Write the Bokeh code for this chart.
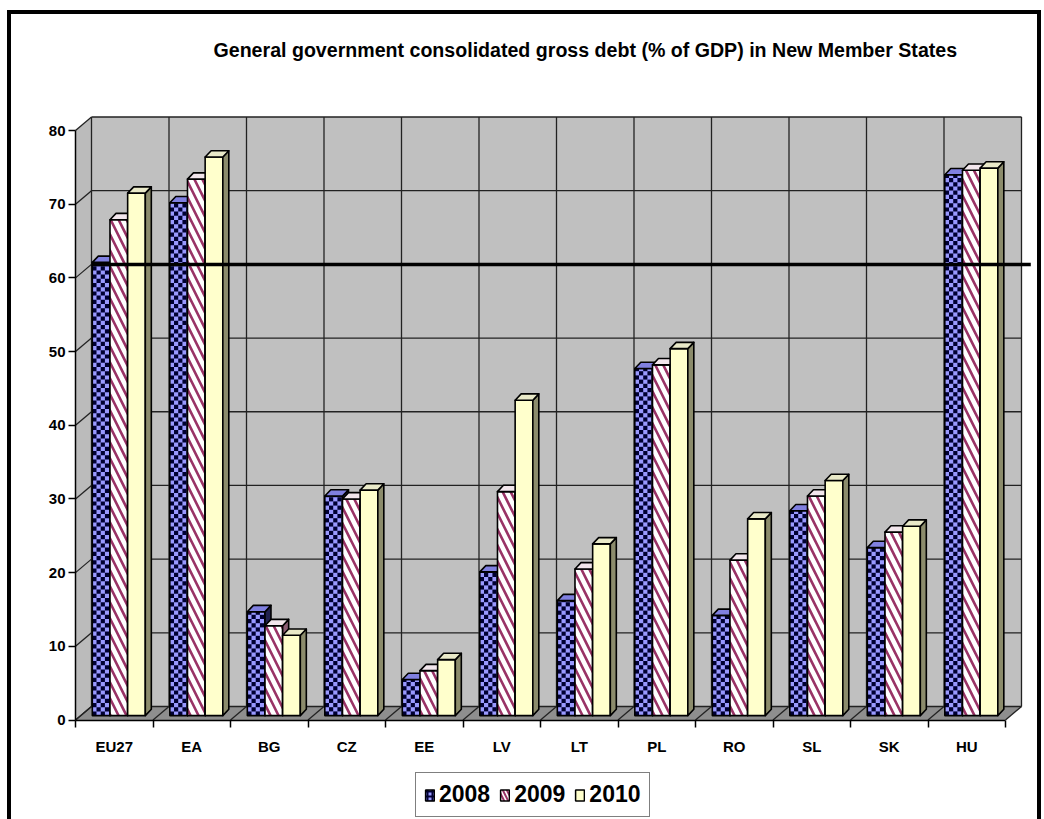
import numpy as np
from bokeh.plotting import figure
from bokeh.models import (Range1d, FixedTicker, LinearAxis, Legend, LegendItem,
                          ColumnDataSource)
from bokeh.embed import file_html
from bokeh.resources import INLINE

# ---------------- data ----------------
categories = ["EU27", "EA", "BG", "CZ", "EE", "LV", "LT", "PL", "RO", "SL", "SK", "HU"]
years = ["2008", "2009", "2010"]
debt_2008 = [61.5, 69.6, 14.1, 29.8, 4.9, 19.5, 15.6, 47.1, 13.6, 27.8, 22.8, 73.4]
debt_2009 = [67.3, 72.8, 12.2, 29.4, 6.1, 30.4, 19.9, 47.6, 21.1, 29.8, 24.9, 74.0]
debt_2010 = [70.9, 75.8, 10.9, 30.6, 7.6, 42.8, 23.3, 49.8, 26.7, 31.9, 25.7, 74.3]
y_ticks = [0, 10, 20, 30, 40, 50, 60, 70, 80]
reference_level = 60
title_text = "General government consolidated gross debt (% of GDP) in New Member States"

series = [debt_2008, debt_2009, debt_2010]
n = len(categories)

# ---------------- layout (pixels) ----------------
BORDER = 4
CW, CH = 1034, 809          # outer box incl. border; the canvas gets this size
MB_T = 54                   # room for the title above the plotting frame
PX_PER_X, PX_PER_Y = 77.5, 7.36875
AXIS_X_PX = 64              # value axis distance from the frame's left edge
AXIS_Y_PX = 103.5           # category axis distance from the frame's bottom edge
px_x, px_y = 1.0 / PX_PER_X, 1.0 / PX_PER_Y

x_left, x_right = -0.5, n - 0.5
X0 = x_left - AXIS_X_PX * px_x
X1 = X0 + CW * px_x
Y0 = -AXIS_Y_PX * px_y
Y1 = Y0 + (CH - MB_T) * px_y

# 3-D projection constants (data units)
WALL_DX, WALL_DY = 16 * px_x, 13.5 * px_y
BAR_SHIFT_X, BAR_LIFT = 4.8 * px_x, 4.4 * px_y
BAR_DX, BAR_DY = 6 * px_x, 6.3 * px_y
GROUP_START = 0.155 - 0.5
BAR_W = 0.228
CELL_X, CELL_Y = 4.2 * px_x, 4.2 * px_y

FONT = "Liberation Sans"

p = figure(width=CW, height=CH,
           x_range=Range1d(X0, X1), y_range=Range1d(Y0, Y1),
           output_backend="svg", toolbar_location=None,
           x_axis_type=None, y_axis_type=None,
           min_border_left=0, min_border_right=0,
           min_border_top=MB_T, min_border_bottom=0)
p.margin = (10, 0, 0, 7)
p.styles = {"border-top": "4px solid black", "border-left": "4px solid black",
            "border-right": "4px solid black", "box-sizing": "border-box"}
p.outline_line_color = None
p.background_fill_color = "white"
p.border_fill_color = "white"

y_top = y_ticks[-1]
yt = np.array(y_ticks, dtype=float)
bounds = np.arange(n + 1) - 0.5

# walls & floor
p.patch([x_left + WALL_DX, x_right + WALL_DX, x_right + WALL_DX, x_left + WALL_DX],
        [WALL_DY, WALL_DY, y_top + WALL_DY, y_top + WALL_DY],
        fill_color="#C0C0C0", line_color=None)
p.patch([x_left, x_left + WALL_DX, x_left + WALL_DX, x_left],
        [0, WALL_DY, y_top + WALL_DY, y_top],
        fill_color="#BBBBBB", line_color=None)
p.patch([x_left, x_right, x_right + WALL_DX, x_left + WALL_DX],
        [0, 0, WALL_DY, WALL_DY],
        fill_color="#8E8E8E", line_color=None)

grid_kw = dict(line_color="#222222", line_width=1.3)
p.segment(x0=np.full(len(yt), x_left + WALL_DX), y0=yt + WALL_DY,
          x1=np.full(len(yt), x_right + WALL_DX), y1=yt + WALL_DY, **grid_kw)
p.segment(x0=np.full(len(yt), x_left), y0=yt,
          x1=np.full(len(yt), x_left + WALL_DX), y1=yt + WALL_DY, **grid_kw)
p.segment(x0=bounds + WALL_DX, y0=np.full(len(bounds), WALL_DY),
          x1=bounds + WALL_DX, y1=np.full(len(bounds), y_top + WALL_DY), **grid_kw)
p.segment(x0=bounds, y0=np.zeros(len(bounds)),
          x1=bounds + WALL_DX, y1=np.full(len(bounds), WALL_DY), **grid_kw)

# ---------------- bars ----------------
front_styles = [
    dict(fill_color="#9999FF"),
    dict(fill_color="white", hatch_pattern="left_diagonal_line", hatch_scale=16,
         hatch_weight=2.6, hatch_color="#993366"),
    dict(fill_color="#FFFFCC"),
]
top_styles = [
    dict(fill_color="#8080E0"),
    dict(fill_color="#F2E6EC"),
    dict(fill_color="#E9E9C8"),
]
side_colors = ["#22224F", "#8A5C72", "#8C8C6C"]
outline = dict(line_color="black", line_width=1.6, line_join="round")


def checker_cells(x0, x1, b, heights):
    """Dark squares of a checkerboard texture clipped to each bar front."""
    L, R, B, T = [], [], [], []
    for l, r, h in zip(x0, x1, heights):
        nx = int(np.ceil((r - l) / CELL_X))
        ny = int(np.ceil(h / CELL_Y))
        for i in range(nx):
            for j in range(ny):
                if (i + j) % 2 == 0:
                    L.append(l + i * CELL_X)
                    R.append(min(l + (i + 1) * CELL_X, r))
                    B.append(b + j * CELL_Y)
                    T.append(min(b + (j + 1) * CELL_Y, b + h))
    return dict(left=L, right=R, bottom=B, top=T)


for k, vals in enumerate(series):
    v = np.array(vals, dtype=float)
    x0 = np.arange(n) + GROUP_START + BAR_SHIFT_X + k * BAR_W
    x1 = x0 + BAR_W
    b = BAR_LIFT
    p.quad(left=x0, right=x1, bottom=np.full(n, b), top=b + v,
           **front_styles[k], line_color=None)
    if k == 0:
        p.quad(source=ColumnDataSource(checker_cells(x0, x1, b, v)),
               left="left", right="right", bottom="bottom", top="top",
               fill_color="#000033", line_color=None)
    p.quad(left=x0, right=x1, bottom=np.full(n, b), top=b + v,
           fill_color=None, **outline)
    side_xs = [[a, a + BAR_DX, a + BAR_DX, a] for a in x1]
    side_ys = [[b, b + BAR_DY, b + BAR_DY + h, b + h] for h in v]
    p.patches(side_xs, side_ys, fill_color=side_colors[k], **outline)
    top_xs = [[l, r_, r_ + BAR_DX, l + BAR_DX] for l, r_ in zip(x0, x1)]
    top_ys = [[b + h, b + h, b + h + BAR_DY, b + h + BAR_DY] for h in v]
    p.patches(top_xs, top_ys, **top_styles[k], **outline)

# 60% reference line
p.segment(x0=[x_left + WALL_DX], y0=[reference_level + WALL_DY],
          x1=[x_right + WALL_DX + 0.12], y1=[reference_level + WALL_DY],
          line_color="black", line_width=3.5)

# ---------------- axes (pinned inside the frame) ----------------
yaxis = LinearAxis(ticker=FixedTicker(ticks=y_ticks, minor_ticks=[]), bounds=(0, y_top),
                   fixed_location=x_left,
                   major_tick_out=7, major_tick_in=0, minor_tick_out=0, minor_tick_in=0,
                   axis_line_width=1.5, major_tick_line_width=1.5,
                   major_label_text_font=FONT, major_label_text_font_style="bold",
                   major_label_text_font_size="15px", major_label_text_color="black",
                   major_label_standoff=3)
p.add_layout(yaxis, "left")

xaxis = LinearAxis(ticker=FixedTicker(ticks=list(range(n)), minor_ticks=list(bounds)),
                   bounds=(x_left, x_right), fixed_location=0,
                   major_label_overrides={i: c for i, c in enumerate(categories)},
                   major_tick_out=0, major_tick_in=0, minor_tick_out=7, minor_tick_in=0,
                   axis_line_width=1.5, minor_tick_line_width=1.5,
                   major_label_text_font=FONT, major_label_text_font_style="bold",
                   major_label_text_font_size="15px", major_label_text_color="black",
                   major_label_standoff=11)
p.add_layout(xaxis, "below")

# ---------------- title ----------------
p.title.text = title_text
p.title.align = "left"
p.title.offset = 202
p.title.standoff = 16
p.title.text_font = FONT
p.title.text_font_style = "bold"
p.title.text_font_size = "19.6px"
p.title.text_color = "black"

# ---------------- legend (proxy glyphs carry the swatch styles) ----------------
nan1 = [np.nan]
swatches = [
    dict(fill_color="#9999FF", hatch_pattern="cross", hatch_color="#000033",
         hatch_scale=5, hatch_weight=2),
    dict(fill_color="white", hatch_pattern="left_diagonal_line", hatch_scale=8,
         hatch_weight=2, hatch_color="#993366"),
    dict(fill_color="#FFFFCC"),
]
proxies = [p.quad(left=nan1, right=nan1, bottom=nan1, top=nan1,
                  line_color="black", line_width=1.5, **sw) for sw in swatches]
legend = Legend(items=[LegendItem(label=yr, renderers=[r])
                       for yr, r in zip(years, proxies)],
                orientation="horizontal", location=(404, 6),
                label_text_font=FONT, label_text_font_style="bold",
                label_text_font_size="23px", label_text_color="black",
                glyph_width=11, glyph_height=14, label_standoff=4, spacing=9,
                padding=8, margin=0,
                border_line_color="black", border_line_width=1.5,
                background_fill_color="white", background_fill_alpha=1.0)
p.add_layout(legend, "center")

open("out.html", "w").write(file_html(p, INLINE))
